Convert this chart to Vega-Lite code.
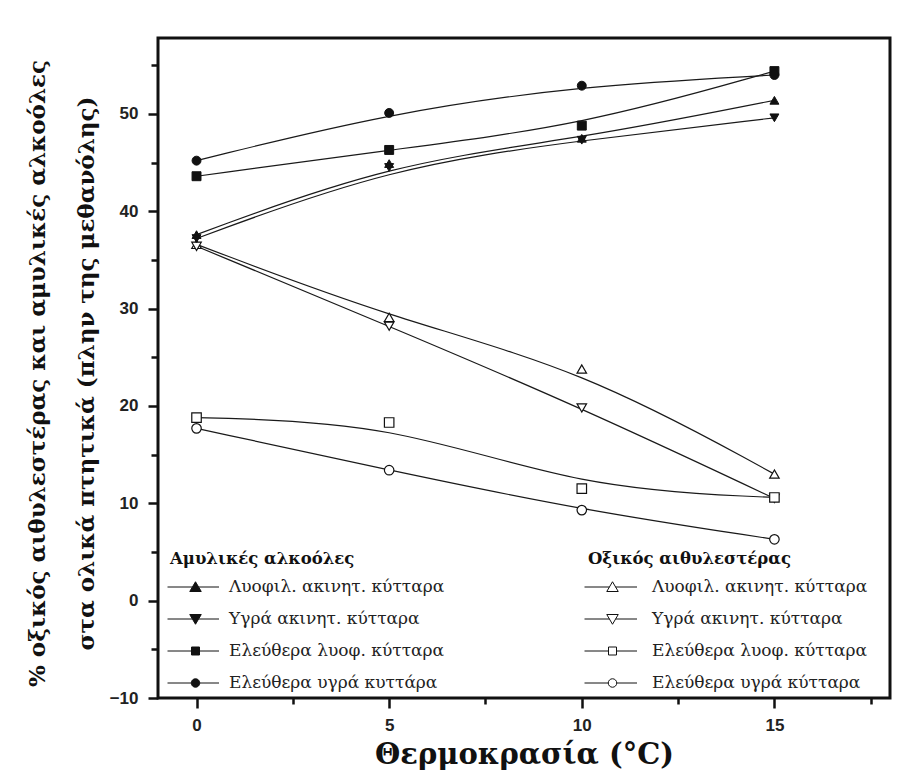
{
  "$schema": "https://vega.github.io/schema/vega-lite/v6.json",
  "width": 732,
  "height": 660,
  "autosize": {"type": "none"},
  "padding": {"left": 158, "top": 38, "right": 11, "bottom": 81},
  "background": "white",
  "config": {
    "view": {"stroke": "#111", "strokeWidth": 3},
    "font": "DejaVu Serif"
  },
  "datasets": {
    "amyl": [
      {"T": 0, "value": 37.6, "cells": "Λυοφιλ. ακινητ. κύτταρα"},
      {"T": 5, "value": 44.9, "cells": "Λυοφιλ. ακινητ. κύτταρα"},
      {"T": 10, "value": 47.5, "cells": "Λυοφιλ. ακινητ. κύτταρα"},
      {"T": 15, "value": 51.4, "cells": "Λυοφιλ. ακινητ. κύτταρα"},
      {"T": 0, "value": 37.2, "cells": "Υγρά ακινητ. κύτταρα"},
      {"T": 5, "value": 44.5, "cells": "Υγρά ακινητ. κύτταρα"},
      {"T": 10, "value": 47.3, "cells": "Υγρά ακινητ. κύτταρα"},
      {"T": 15, "value": 49.6, "cells": "Υγρά ακινητ. κύτταρα"},
      {"T": 0, "value": 43.6, "cells": "Ελεύθερα λυοφ. κύτταρα"},
      {"T": 5, "value": 46.3, "cells": "Ελεύθερα λυοφ. κύτταρα"},
      {"T": 10, "value": 48.8, "cells": "Ελεύθερα λυοφ. κύτταρα"},
      {"T": 15, "value": 54.4, "cells": "Ελεύθερα λυοφ. κύτταρα"},
      {"T": 0, "value": 45.2, "cells": "Ελεύθερα υγρά κυττάρα"},
      {"T": 5, "value": 50.1, "cells": "Ελεύθερα υγρά κυττάρα"},
      {"T": 10, "value": 52.9, "cells": "Ελεύθερα υγρά κυττάρα"},
      {"T": 15, "value": 54.0, "cells": "Ελεύθερα υγρά κυττάρα"}
    ],
    "ethyl": [
      {"T": 0, "value": 36.6, "cells": "Λυοφιλ. ακινητ. κύτταρα"},
      {"T": 5, "value": 29.1, "cells": "Λυοφιλ. ακινητ. κύτταρα"},
      {"T": 10, "value": 23.8, "cells": "Λυοφιλ. ακινητ. κύτταρα"},
      {"T": 15, "value": 13.0, "cells": "Λυοφιλ. ακινητ. κύτταρα"},
      {"T": 0, "value": 36.4, "cells": "Υγρά ακινητ. κύτταρα"},
      {"T": 5, "value": 28.2, "cells": "Υγρά ακινητ. κύτταρα"},
      {"T": 10, "value": 19.8, "cells": "Υγρά ακινητ. κύτταρα"},
      {"T": 15, "value": 10.5, "cells": "Υγρά ακινητ. κύτταρα"},
      {"T": 0, "value": 18.8, "cells": "Ελεύθερα λυοφ. κύτταρα"},
      {"T": 5, "value": 18.3, "cells": "Ελεύθερα λυοφ. κύτταρα"},
      {"T": 10, "value": 11.5, "cells": "Ελεύθερα λυοφ. κύτταρα"},
      {"T": 15, "value": 10.6, "cells": "Ελεύθερα λυοφ. κύτταρα"},
      {"T": 0, "value": 17.7, "cells": "Ελεύθερα υγρά κύτταρα"},
      {"T": 5, "value": 13.4, "cells": "Ελεύθερα υγρά κύτταρα"},
      {"T": 10, "value": 9.3, "cells": "Ελεύθερα υγρά κύτταρα"},
      {"T": 15, "value": 6.3, "cells": "Ελεύθερα υγρά κύτταρα"}
    ]
  },
  "encoding": {
    "x": {
      "field": "T", "type": "quantitative",
      "scale": {"domain": [-1, 18], "nice": false, "zero": false},
      "axis": {
        "title": "Θερμοκρασία (°C)",
        "values": [0, 2.5, 5, 7.5, 10, 12.5, 15, 17.5],
        "labelExpr": "datum.value % 5 === 0 ? datum.label : ''",
        "tickSize": {"condition": {"test": "datum.value % 5 === 0", "value": 10}, "value": 6},
        "tickWidth": 2.5, "tickColor": "#111",
        "domain": false, "grid": false, "labelOverlap": false, "labelFlush": false,
        "labelFont": "Liberation Sans", "labelFontWeight": "bold", "labelFontSize": 17, "labelColor": "#222", "labelPadding": 9,
        "titleFont": "DejaVu Serif", "titleFontWeight": "bold", "titleFontSize": 29, "titleColor": "#111",
        "titleBaseline": "alphabetic", "titleY": 65
      }
    },
    "y": {
      "field": "value", "type": "quantitative",
      "scale": {"domain": [-10, 57.8], "nice": false, "zero": false},
      "axis": {
        "title": ["% οξικός αιθυλεστέρας και αμυλικές αλκοόλες", "στα ολικά πτητικά (πλην της μεθανόλης)"],
        "values": [-10, -5, 0, 5, 10, 15, 20, 25, 30, 35, 40, 45, 50, 55],
        "labelExpr": "datum.value % 10 === 0 ? datum.label : ''",
        "tickSize": {"condition": {"test": "datum.value % 10 === 0", "value": 10}, "value": 7},
        "tickWidth": 2.5, "tickColor": "#111",
        "domain": false, "grid": false, "labelOverlap": false, "labelFlush": false,
        "labelFont": "Liberation Sans", "labelFontWeight": "bold", "labelFontSize": 17, "labelColor": "#222", "labelPadding": 10,
        "titleFont": "DejaVu Serif", "titleFontWeight": "bold", "titleFontSize": 23, "titleColor": "#111",
        "titleLineHeight": 49, "titleAngle": -90, "titleAlign": "center", "titleBaseline": "middle",
        "titleX": -121, "titleY": 335
      }
    }
  },
  "layer": [
    {
      "data": {"name": "amyl"},
      "mark": {"type": "line", "interpolate": "basis", "stroke": "#1a1a1a", "strokeWidth": 1.2},
      "encoding": {"detail": {"field": "cells"}}
    },
    {
      "data": {"name": "ethyl"},
      "mark": {"type": "line", "interpolate": "basis", "stroke": "#1a1a1a", "strokeWidth": 1.2},
      "encoding": {"detail": {"field": "cells"}}
    },
    {
      "data": {"name": "ethyl"},
      "mark": {"type": "point", "filled": false, "fill": "white", "stroke": "#111", "strokeWidth": 1.2, "opacity": 1, "size": 90},
      "encoding": {
        "shape": {
          "field": "cells", "type": "nominal",
          "sort": ["Λυοφιλ. ακινητ. κύτταρα", "Υγρά ακινητ. κύτταρα", "Ελεύθερα λυοφ. κύτταρα", "Ελεύθερα υγρά κύτταρα"],
          "scale": {"range": ["triangle-up", "triangle-down", "square", "circle"]},
          "legend": null
        }
      }
    },
    {
      "data": {"name": "amyl"},
      "mark": {"type": "point", "filled": true, "fill": "#111", "stroke": "#111", "strokeWidth": 1, "opacity": 1, "size": 80},
      "encoding": {
        "shape": {
          "field": "cells", "type": "nominal",
          "sort": ["Λυοφιλ. ακινητ. κύτταρα", "Υγρά ακινητ. κύτταρα", "Ελεύθερα λυοφ. κύτταρα", "Ελεύθερα υγρά κυττάρα"],
          "scale": {"range": ["triangle-up", "triangle-down", "square", "circle"]},
          "legend": null
        }
      }
    },
    {
      "data": {"name": "ethyl"},
      "mark": {"type": "point", "filled": false, "fill": "white", "stroke": "#111", "strokeWidth": 1, "opacity": 0, "size": 100},
      "encoding": {
        "shape": {
          "field": "cells", "type": "nominal",
          "scale": {
            "domain": ["Λυοφιλ. ακινητ. κύτταρα", "Υγρά ακινητ. κύτταρα", "Ελεύθερα λυοφ. κύτταρα", "Ελεύθερα υγρά κύτταρα"],
            "range": [
              "M-5.6,0H-0.62M0.62,0H4.9M0,-1.05L1.15,0.9L-1.15,0.9Z",
              "M-5.6,0H-0.62M0.62,0H4.9M0,1.05L1.15,-0.9L-1.15,-0.9Z",
              "M-5.6,0H-0.8M0.8,0H4.9M-0.8,-0.8H0.8V0.8H-0.8Z",
              "M-5.6,0H-0.85M0.85,0H4.9M0.85,0A0.85,0.85,0,1,1,-0.85,0A0.85,0.85,0,1,1,0.85,0Z"
            ]
          },
          "legend": {
            "title": "Οξικός αιθυλεστέρας",
            "orient": "none", "legendX": 430, "legendY": 513, "padding": 0,
            "titleFont": "DejaVu Serif", "titleFontWeight": "bold", "titleFontSize": 16.5, "titleColor": "#111", "titlePadding": 11, "titleLimit": 400,
            "labelFont": "DejaVu Serif", "labelFontSize": 17, "labelColor": "#222", "labelLimit": 400,
            "symbolSize": 100, "symbolOffset": 16, "labelOffset": 31, "rowPadding": 14,
            "symbolOpacity": 1, "symbolStrokeWidth": 1
          }
        }
      }
    },
    {
      "data": {"name": "amyl"},
      "mark": {"type": "point", "filled": true, "fill": "#111", "stroke": "#111", "strokeWidth": 1, "opacity": 0, "size": 100},
      "encoding": {
        "shape": {
          "field": "cells", "type": "nominal",
          "scale": {
            "domain": ["Λυοφιλ. ακινητ. κύτταρα", "Υγρά ακινητ. κύτταρα", "Ελεύθερα λυοφ. κύτταρα", "Ελεύθερα υγρά κυττάρα"],
            "range": [
              "M-5.6,0H-0.62M0.62,0H4.7M0,-1.05L1.15,0.9L-1.15,0.9Z",
              "M-5.6,0H-0.62M0.62,0H4.7M0,1.05L1.15,-0.9L-1.15,-0.9Z",
              "M-5.6,0H-0.8M0.8,0H4.7M-0.8,-0.8H0.8V0.8H-0.8Z",
              "M-5.6,0H-0.85M0.85,0H4.7M0.85,0A0.85,0.85,0,1,1,-0.85,0A0.85,0.85,0,1,1,0.85,0Z"
            ]
          },
          "legend": {
            "title": "Αμυλικές αλκοόλες",
            "orient": "none", "legendX": 12, "legendY": 513, "padding": 0,
            "titleFont": "DejaVu Serif", "titleFontWeight": "bold", "titleFontSize": 16.5, "titleColor": "#111", "titlePadding": 11, "titleLimit": 400,
            "labelFont": "DejaVu Serif", "labelFontSize": 17, "labelColor": "#222", "labelLimit": 400,
            "symbolSize": 100, "symbolOffset": 17, "labelOffset": 25, "rowPadding": 14,
            "symbolOpacity": 1, "symbolStrokeWidth": 1
          }
        }
      }
    }
  ],
  "resolve": {
    "scale": {"shape": "independent"},
    "legend": {"shape": "independent"}
  }
}
